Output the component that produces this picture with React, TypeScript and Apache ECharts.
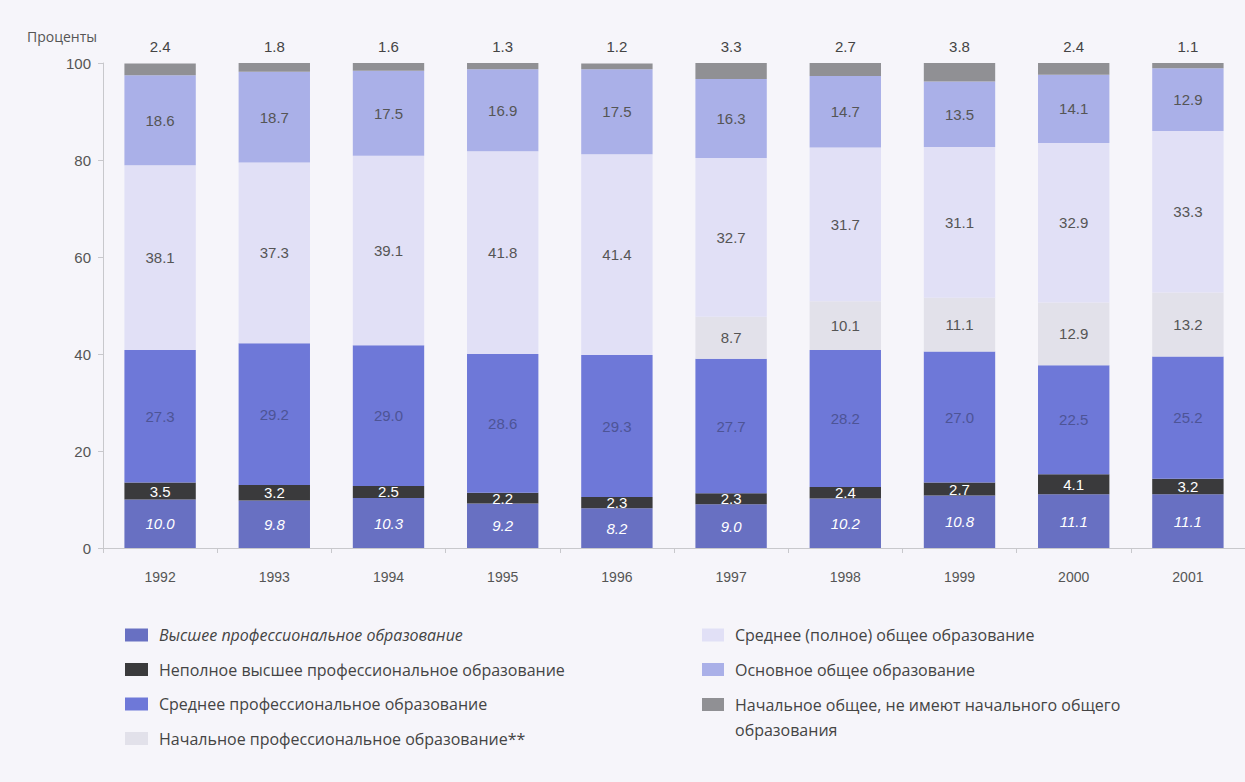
import React, { useEffect, useRef } from "react";
import * as echarts from "echarts";

const years = ["1992", "1993", "1994", "1995", "1996", "1997", "1998", "1999", "2000", "2001"];
const yTicks = [0, 20, 40, 60, 80, 100];

const higher = [10.0, 9.8, 10.3, 9.2, 8.2, 9.0, 10.2, 10.8, 11.1, 11.1];
const incompleteHigher = [3.5, 3.2, 2.5, 2.2, 2.3, 2.3, 2.4, 2.7, 4.1, 3.2];
const secondaryProf = [27.3, 29.2, 29.0, 28.6, 29.3, 27.7, 28.2, 27.0, 22.5, 25.2];
const primaryProf: (number | null)[] = [null, null, null, null, null, 8.7, 10.1, 11.1, 12.9, 13.2];
const secondaryGeneral = [38.1, 37.3, 39.1, 41.8, 41.4, 32.7, 31.7, 31.1, 32.9, 33.3];
const basicGeneral = [18.6, 18.7, 17.5, 16.9, 17.5, 16.3, 14.7, 13.5, 14.1, 12.9];
const primaryGeneral = [2.4, 1.8, 1.6, 1.3, 1.2, 3.3, 2.7, 3.8, 2.4, 1.1];

const names = [
  "Высшее профессиональное образование",
  "Неполное высшее профессиональное образование",
  "Среднее профессиональное образование",
  "Начальное профессиональное образование**",
  "Среднее (полное) общее образование",
  "Основное общее образование",
  "Начальное общее, не имеют начального общего образования",
];

export default function App() {
  const ref = useRef<HTMLDivElement>(null);
  useEffect(() => {
    if (!ref.current) return;
    const chart = echarts.init(ref.current, null, { renderer: "svg" });
    const numFont = "Liberation Sans";
    const lblBase = { show: true, position: "inside", fontSize: 15, fontFamily: numFont, formatter: (p: any) => p.value == null ? "" : Number(p.value).toFixed(1) };
    const mk = (name: string, data: (number | null)[], color: string, label: any) => ({
      name,
      type: "bar",
      stack: "total",
      data,
      barWidth: "62.5%",
      itemStyle: { color },
      label: { ...lblBase, ...label },
      emphasis: { disabled: true },
    });
    const legendText = { fontSize: 16, lineHeight: 20, color: "#444", fontFamily: "Open Sans", padding: [0, 0, 0, 6] };
    chart.setOption({
      animation: false,
      backgroundColor: "#f6f5fa",
      title: {
        text: "Проценты",
        left: 22,
        top: 24,
        textStyle: { fontSize: 14, fontWeight: "normal", color: "#555", fontFamily: "Open Sans" },
      },
      grid: { left: 103, right: -25, top: 63, bottom: 234, containLabel: false },
      xAxis: {
        type: "category",
        data: years,
        axisLine: { lineStyle: { color: "#c8c8cc" } },
        axisTick: { show: true, length: 5, lineStyle: { color: "#c8c8cc" } },
        axisLabel: { fontSize: 14, color: "#555", fontFamily: numFont, margin: 22 },
      },
      yAxis: {
        type: "value",
        min: yTicks[0],
        max: yTicks[yTicks.length - 1],
        interval: 20,
        axisLine: { show: true, lineStyle: { color: "#c8c8cc" } },
        axisTick: { show: true, length: 5, lineStyle: { color: "#c8c8cc" } },
        axisLabel: { fontSize: 15, color: "#555", fontFamily: numFont, margin: 12 },
        splitLine: { show: false },
      },
      legend: [
        {
          orient: "vertical",
          left: 125,
          top: 625,
          padding: 0,
          itemWidth: 23,
          itemHeight: 13,
          itemGap: 14.5,
          icon: "rect",
          selectedMode: false,
          textStyle: legendText,
          data: [
            { name: names[0], textStyle: { fontStyle: "italic" } },
            names[1],
            names[2],
            names[3],
          ],
        },
        {
          orient: "vertical",
          left: 702,
          top: 625,
          padding: 0,
          itemWidth: 22,
          itemHeight: 13,
          itemGap: 14.5,
          icon: "rect",
          selectedMode: false,
          textStyle: legendText,
          data: [names[4], names[5]],
        },
        {
          orient: "vertical",
          left: 702,
          top: 667,
          padding: 0,
          itemWidth: 22,
          itemHeight: 13,
          icon: "rect",
          selectedMode: false,
          textStyle: { ...legendText, lineHeight: 25 },
          formatter: () => " \nНачальное общее, не имеют начального общего\nобразования",
          data: [names[6]],
        },
      ],
      series: [
        mk(names[0], higher, "#6870c2", { color: "#ffffff", fontStyle: "italic" }),
        mk(names[1], incompleteHigher, "#3a3a3c", { color: "#ffffff" }),
        mk(names[2], secondaryProf, "#6e78d8", { color: "#4d5496" }),
        mk(names[3], primaryProf, "#e2e1ea", { color: "#555" }),
        mk(names[4], secondaryGeneral, "#e1e0f6", { color: "#555" }),
        mk(names[5], basicGeneral, "#aab0e8", { color: "#555" }),
        mk(names[6], primaryGeneral, "#909094", { position: "top", distance: 9, color: "#444" }),
      ],
    });
    return () => chart.dispose();
  }, []);
  return <div ref={ref} style={{ position: "fixed", left: 0, top: 0, width: 1245, height: 782 }} />;
}
